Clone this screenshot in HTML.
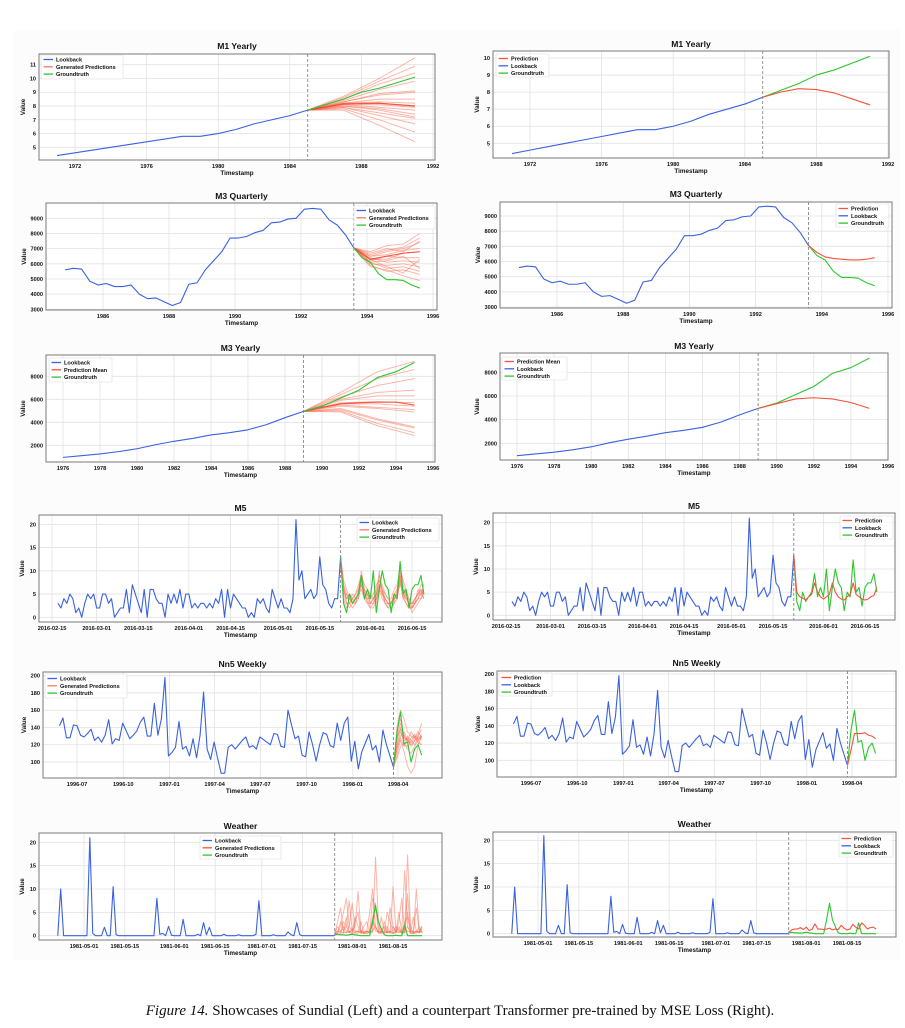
<!DOCTYPE html>
<html><head><meta charset="utf-8">
<style>
html,body{margin:0;padding:0;background:#fff;}
#wrap{position:relative;width:905px;height:1028px;overflow:hidden;}
#bg{position:absolute;left:14px;top:30px;width:886px;height:930px;background:#fcfcfc;}
svg{position:absolute;left:0;top:0;}
#caption{position:absolute;left:0;top:1003px;width:920px;text-align:center;font-family:"Liberation Serif",serif;font-size:15px;color:#111;}
</style></head>
<body>
<div id="wrap">
<div id="bg"></div>
<svg id="fig" width="905" height="1000" viewBox="0 0 905 1000"></svg>
<div id="caption"><i>Figure 14.</i> Showcases of Sundial (Left) and a counterpart Transformer pre-trained by MSE Loss (Right).</div>
</div>
<script>
// ---------- DATA ----------
const m1Years = [1971,1972,1973,1974,1975,1976,1977,1978,1979,1980,1981,1982,1983,1984,1985];
const m1Look = [4.4,4.6,4.8,5.0,5.2,5.4,5.6,5.8,5.8,6.0,6.3,6.7,7.0,7.3,7.7];
const m1FutYears = [1985,1986,1987,1988,1989,1990,1991];
const m1Truth = [7.7,8.1,8.5,9.0,9.3,9.7,10.1];
const m1Pred = [7.7,8.0,8.2,8.15,7.95,7.6,7.25];
const m1SampleYears = [1985,1987,1989,1991];
const m1Samples = [[7.7,8.7,10.0,11.5],[7.7,8.6,9.8,10.9],[7.7,8.5,9.6,10.4],[7.7,8.4,9.2,9.8],[7.7,8.3,8.9,9.1],[7.7,8.3,8.8,9.0],[7.7,8.2,8.5,8.5],[7.7,8.2,8.3,8.2],[7.7,8.2,8.2,8.0],[7.7,8.1,8.1,7.9],[7.7,8.1,7.9,7.7],[7.7,8.0,7.8,7.4],[7.7,8.0,7.7,7.2],[7.7,7.9,7.5,7.1],[7.7,7.9,7.3,6.7],[7.7,7.8,7.0,6.1],[7.7,7.7,6.6,5.4]];
const m1Mean = [7.7,8.15,8.2,8.0];

const m3qStart = 1984.85;
const m3qLook = [5600,5700,5650,4850,4600,4700,4500,4500,4600,4000,3700,3750,3500,3250,3450,4650,4750,5600,6200,6800,7700,7700,7800,8050,8200,8700,8750,8950,9000,9600,9650,9600,8900,8550,7900,7050];
const m3qTruth = [7050,6400,6100,5350,4950,4950,4900,4600,4400];
const m3qPred = [7050,6600,6300,6200,6150,6100,6100,6150,6250];
const m3qSampleX = [1993.6,1994.1,1994.6,1995.1,1995.6];
const m3qSamples = [[7050,6800,7200,7300,8000],[7050,6600,6900,7100,7700],[7050,6700,7000,6800,7500],[7050,6500,6600,6900,7000],[7050,6300,6300,6700,6800],[7050,6200,6500,6400,6400],[7050,6400,6100,6200,6100],[7050,6000,5900,6000,5800],[7050,6100,5700,5800,5500],[7050,5900,5500,5600,5300],[7050,5800,5600,5200,4900],[7050,6300,5800,5400,6300],[7050,6500,6800,7000,7400],[7050,6100,6200,6500,5700]];
const m3qMean = [7050,6300,6500,6700,6800];

const m3yYears = [1976,1977,1978,1979,1980,1981,1982,1983,1984,1985,1986,1987,1988,1989];
const m3yLook = [950,1100,1250,1450,1700,2050,2350,2600,2900,3100,3350,3800,4400,4950];
const m3yFutYears = [1989,1990,1991,1992,1993,1994,1995];
const m3yTruth = [4950,5400,6100,6800,7900,8400,9200];
const m3yPred = [4950,5350,5750,5850,5750,5450,4950];
const m3yMean = [4950,5300,5600,5700,5750,5750,5500];
const m3ySampleX = [1989,1991,1993,1995];
const m3ySamples = [[4950,6600,8400,9300],[4950,6400,7800,8600],[4950,6200,7200,7800],[4950,6000,6600,6800],[4950,5900,6300,6300],[4950,5700,5800,5700],[4950,5600,5600,5400],[4950,5500,5300,5100],[4950,5400,5200,4900],[4950,5200,4300,3600],[4950,5100,4200,3500],[4950,5000,3900,3100],[4950,4900,3700,2850]];

const m5Start = '2016-02-17';
const m5Look = [3,2,4,3,5,4,1,2,0,3,5,4,5,2,2,5,5,3,4,0,1,2,2,6,1,7,5,3,1,6,0,6,6,4,3,3,0,5,3,5,3,6,2,5,5,2,3,2,3,3,2,3,2,4,3,6,0,6,2,5,4,3,2,2,0,1,0,4,3,4,2,1,6,4,2,4,2,2,1,4,21,8,10,4,5,6,4,5,13,7,6,3,2,4,4,13];
const m5Truth = [13,3,1,5,3,4,5,9,4,6,4,10,1,6,10,7,6,1,5,4,12,5,6,2,6,7,7,9,5];
const m5Pred = [13,5,4,3.7,3.3,4,4.5,7,5,4,3.5,4,4.5,7,5,4,3.5,3.3,4,4.5,7,4.5,4,3.5,3.3,3.5,4,4.3,6];
const m5Samples = [
 [13,6,4,4,3,4,5,8,5,4,4,4,5,7,5,4,3,3,4,5,9,5,4,4,3,4,5,6,5],
 [12,5,3,3,4,5,6,10,6,5,3,4,6,9,6,4,3,3,5,6,11,7,5,3,3,4,5,7,7],
 [11,7,5,4,3,3,4,7,4,3,3,3,4,6,4,3,2,2,3,4,8,4,3,2,2,3,4,5,4],
 [13,4,2,3,4,5,7,9,5,5,4,5,7,8,6,5,4,4,6,7,11,8,6,4,2,3,6,5,7],
 [12,6,4,5,4,3,5,6,4,4,2,3,5,6,5,4,3,2,4,5,7,6,4,3,3,3,4,4,5],
 [13,8,6,4,5,4,4,9,7,6,5,4,5,8,7,5,4,3,4,5,10,6,5,3,2,4,5,5,6],
 [12,5,5,3,2,3,6,7,6,3,2,2,4,10,5,3,3,2,3,6,9,5,3,2,2,3,4,6,4],
 [13,7,3,2,3,4,5,8,4,5,3,4,3,7,6,3,2,3,5,4,8,4,5,3,1,2,3,4,6]];

const nn5Start = '1996-05-27';
const nn5Look = [142,151,128,128,143,142,131,129,133,138,125,129,123,131,149,121,127,125,145,136,127,131,136,146,152,130,130,168,131,150,198,107,111,117,147,115,118,107,127,105,131,181,115,103,123,104,87,87,117,120,115,120,125,129,117,119,115,129,126,123,120,133,132,118,117,160,143,127,130,108,106,135,120,101,120,134,132,119,117,145,125,145,152,101,124,92,112,122,132,114,119,100,137,120,107,94];
const nn5Truth = [94,135,158,121,123,100,115,120,108];
const nn5Pred = [94,112,131,131,131,132,129,128,125];
const nn5Samples = [[94,140,160,150,135,130,128,132,145],[94,130,145,128,125,120,125,130,138],[94,120,135,125,128,122,128,135,128],[94,115,128,118,130,125,120,128,125],[94,110,125,112,95,87,95,120,130],[94,125,140,120,118,125,130,122,120],[94,135,150,130,125,135,128,125,132],[94,105,118,122,115,110,118,125,120],[94,128,138,132,122,128,132,126,130],[94,118,130,135,126,118,124,130,127]];

const wStart = '1981-04-22';
const wLook = [0,10,0,0,0,0,0,0,0,0,0,21,0.5,0,0,0,1.8,0,0,10.5,0.2,0,0,0,0,0,0,0,0,0,0,0,0,0,8,0.3,0.5,0,2,0.1,0,0,0,3.5,0,0,0,0,0.3,0,2.8,0.2,1.8,0,0,0,0,0.3,0,0,0,0,0.2,0,0,0,0,0,0.3,7.5,0,0,0,0,0.2,0,0,0,0,0.8,0.2,0,2.8,0.2,0,0,0,0,0,0,0,0,0,0,0,0];
const wTruth = [0.2,0.3,0.2,0.2,0.1,0.2,0.3,0.2,0.1,0,0,0,0,3,6.5,3,1.5,0.2,0,0,0,0.1,0,0,2.3,0,0,0,0,0,0];
const wPred = [0.3,0.8,1,1,1.3,0.9,1.4,0.7,0.9,2.1,1,1,0.9,1,1.2,0.8,1,0.9,1.8,1.2,0.8,1,2,1.4,1,2.3,1.8,1,1.3,1.4,1];
const wSamples = [
 [0.3,1,2,5,8,2,1,0.6,1,0.5,0.6,1,0.5,0.7,16.8,3,1,0.5,1,0.6,0.5,1,2,0.5,0.8,17.3,2,0.6,1,0.7,1],
 [0.3,0.5,3,1,2,7.5,1,2,9.5,1,0.5,0.6,1,3,2,0.5,1,0.6,2,0.5,10.5,1,0.6,1,14,2,0.5,0.6,10,1,2],
 [0.5,2,1,0.5,4,0.6,0.5,3,5,0.6,0.5,1,0.6,8,6,1,0.5,3,0.6,0.7,2,0.6,5,0.8,0.6,9,1,0.5,0.6,2,0.6],
 [0.3,0.6,0.5,0.7,0.6,1,0.5,0.6,0.5,1.2,0.6,0.5,0.7,1,2,0.6,0.5,0.7,0.6,1,0.5,0.6,1,0.5,0.7,1,0.6,0.5,0.8,0.6,1],
 [0.4,1,0.8,2,1,0.7,1.5,0.8,1,0.6,1,0.8,1,4,1,0.8,1,2,0.8,1,0.6,0.9,1.5,0.7,1,5,1,0.8,1,0.7,2],
 [0.4,3,6,1,0.6,2,7,1,0.8,3,0.6,1,5,10,2,0.7,4,1,0.6,6,2,0.8,3,8,1,2,0.6,4,1,0.8,1.5],
 [0.5,1,0.7,3,2,0.8,1,4,2,0.6,2,3,0.8,1,7,2,0.6,1,5,3,0.8,2,1,0.6,3,4,1,0.7,6,1,0.8]];

const yearTicksM1 = [1972,1976,1980,1984,1988,1992];
const yearTicksM3Q = [1986,1988,1990,1992,1994,1996];
const yearTicksM3Y = [1976,1978,1980,1982,1984,1986,1988,1990,1992,1994,1996];
const m5TickLabels = ['2016-02-15','2016-03-01','2016-03-15','2016-04-01','2016-04-15','2016-05-01','2016-05-15','2016-06-01','2016-06-15'];
const nn5TickLabels = ['1996-07','1996-10','1997-01','1997-04','1997-07','1997-10','1998-01','1998-04'];
const wTickLabels = ['1981-05-01','1981-05-15','1981-06-01','1981-06-15','1981-07-01','1981-07-15','1981-08-01','1981-08-15'];

// ---------- RENDER ----------
const NS='http://www.w3.org/2000/svg';
const svg=document.getElementById('fig');
const BLUE='#3a62e0', RED='#f5533a', GREEN='#2fc52f', SAMP='rgba(248,105,80,0.5)';
function el(tag,attrs,parent){const e=document.createElementNS(NS,tag);for(const k in attrs)e.setAttribute(k,attrs[k]);(parent||svg).appendChild(e);return e;}
function dayNum(s){const p=s.split('-').map(Number);return Date.UTC(p[0],p[1]-1,p[2]||1)/864e5;}
function seq(start,step,n){const a=[];for(let i=0;i<n;i++)a.push(start+i*step);return a;}

function panel(c){
  const g=el('g',{});
  
  
  const sx=v=>c.px0+(v-c.xv0)*(c.px1-c.px0)/(c.xv1-c.xv0);
  const sy=v=>c.py0+(v-c.yv0)*(c.py1-c.py0)/(c.yv1-c.yv0);
  el('rect',{x:c.L,y:c.T,width:c.R-c.L,height:c.B-c.T,fill:'#fff'},g);
  const grid=el('g',{},g);
  
  
  c.xt.forEach(t=>{const x=sx(t.v);if(x>=c.L-1&&x<=c.R+1)el('line',{x1:x,x2:x,y1:c.T,y2:c.B,stroke:'#e2e2e2','stroke-width':0.8},grid);});
  c.yt.forEach(v=>{const y=sy(v);el('line',{x1:c.L,x2:c.R,y1:y,y2:y,stroke:'#e2e2e2','stroke-width':0.8},grid);});
  function line(xs,ys,col,w,name){
    const d=xs.map((x,i)=>(i?'L':'M')+sx(x).toFixed(2)+' '+sy(ys[i]).toFixed(2)).join(' ');
    const p=el('path',{d:d,fill:'none',stroke:col,'stroke-width':w,'stroke-linejoin':'round'},g);
    
    
  }
  (c.samples||[]).forEach((s,i)=>line(c.sampleX,s,SAMP,0.95,'prediction-sample-'+(i+1)));
  if(c.mean)line(c.meanX,c.mean,'rgba(235,70,45,0.85)',1.2,'prediction-mean');
  line(c.lookX,c.look,BLUE,1.1,'lookback-line');
  if(c.truth)line(c.futX,c.truth,GREEN,1.1,'groundtruth-line');
  if(c.pred)line(c.futX,c.pred,RED,1.1,'prediction-line');
  const vx=sx(c.lookX[c.lookX.length-1]);
  const vl=el('line',{x1:vx,x2:vx,y1:c.T,y2:c.B,stroke:'#888','stroke-width':0.9,'stroke-dasharray':'3,2'},g);
  
  
  el('rect',{x:c.L,y:c.T,width:c.R-c.L,height:c.B-c.T,fill:'none',stroke:'#7a7a7a','stroke-width':1},g);
  const fs='font-family:"Liberation Sans",sans-serif;font-weight:bold;';
  c.xt.forEach(t=>{const x=sx(t.v);const tx=el('text',{x:x,y:c.B+8,'text-anchor':'middle',style:fs+'font-size:5.6px',fill:'#111'},g);tx.textContent=t.l;
    });
  c.yt.forEach(v=>{const y=sy(v);const tx=el('text',{x:c.L-3,y:y+2,'text-anchor':'end',style:fs+'font-size:5.6px',fill:'#111'},g);tx.textContent=String(v);
    });
  const xl=el('text',{x:(c.L+c.R)/2,y:c.B+15,'text-anchor':'middle',style:fs+'font-size:6.3px',fill:'#111'},g);xl.textContent='Timestamp';
  
  const yx=c.L-c.ylOff, ym=(c.T+c.B)/2;
  const yl=el('text',{x:yx,y:ym,'text-anchor':'middle',transform:`rotate(-90 ${yx} ${ym})`,style:fs+'font-size:6.3px',fill:'#111'},g);yl.textContent='Value';
  
  const tt=el('text',{x:(c.L+c.R)/2,y:c.titleY+3,'text-anchor':'middle',style:fs+'font-size:8.6px',fill:'#111'},g);tt.textContent=c.title;
  
  const lg=el('g',{},g);
  
  
  const [lx,ly,lw,lh]=c.leg;
  el('rect',{x:lx,y:ly,width:lw,height:lh,fill:'rgba(255,255,255,0.85)',stroke:'#ddd','stroke-width':0.6,rx:1},lg);
  c.legItems.forEach((it,i)=>{const yy=ly+4.5+i*7.3;
    el('line',{x1:lx+2.5,x2:lx+12,y1:yy,y2:yy,stroke:it[1],'stroke-width':1.3},lg);
    const t=el('text',{x:lx+15,y:yy+2,style:fs+'font-size:5.6px',fill:'#111'},lg);t.textContent=it[0];
    });
}
const LB=['Lookback',BLUE],GP=['Generated Predictions','rgba(248,105,80,0.9)'],GT=['Groundtruth',GREEN],PR=['Prediction',RED],PM=['Prediction Mean',RED];
const yrT=a=>a.map(v=>({v:v,l:String(v)}));
const dT=a=>a.map(s=>({v:dayNum(s),l:s}));
const range=(a,b,s)=>{const r=[];for(let v=a;v<=b;v+=s)r.push(v);return r;};

// M1
const m1Base={title:'M1 Yearly',lookX:m1Years,look:m1Look,futX:m1FutYears,truth:m1Truth,xt:yrT(yearTicksM1)};
panel(Object.assign({},m1Base,{name:'m1-yearly-sundial',L:39,R:435,T:54,B:160,px0:75,px1:433,xv0:1972,xv1:1992,py0:64.7,py1:147.3,yv0:11,yv1:5,yt:range(5,11,1),ylOff:14,titleY:46,
 samples:m1Samples,sampleX:m1SampleYears,mean:m1Mean,meanX:m1SampleYears,leg:[41,55,82,24],legItems:[LB,GP,GT]}));
panel(Object.assign({},m1Base,{name:'m1-yearly-mse',L:493,R:889,T:51,B:158,px0:530,px1:888,xv0:1972,xv1:1992,py0:58,py1:143.3,yv0:10,yv1:5,yt:range(5,10,1),ylOff:14,titleY:44,
 pred:m1Pred,leg:[496,54,53,23],legItems:[PR,LB,GT]}));
// M3 Q
const m3qX=seq(m3qStart,0.25,m3qLook.length), m3qF=seq(m3qX[m3qX.length-1],0.25,m3qTruth.length);
const m3qBase={title:'M3 Quarterly',lookX:m3qX,look:m3qLook,futX:m3qF,truth:m3qTruth,xt:yrT(yearTicksM3Q),yt:range(3000,9000,1000)};
panel(Object.assign({},m3qBase,{name:'m3-quarterly-sundial',L:46,R:437,T:203,B:310,px0:103,px1:433,xv0:1986,xv1:1996,py0:218.3,py1:309.3,yv0:9000,yv1:3000,ylOff:20,titleY:196,
 samples:m3qSamples,sampleX:m3qSampleX,mean:m3qMean,meanX:m3qSampleX,leg:[354,206,81,23],legItems:[LB,GP,GT]}));
panel(Object.assign({},m3qBase,{name:'m3-quarterly-mse',L:500,R:892,T:202,B:308,px0:557,px1:888,xv0:1986,xv1:1996,py0:216,py1:307,yv0:9000,yv1:3000,ylOff:20,titleY:194,
 pred:m3qPred,leg:[836,204,53,23],legItems:[PR,LB,GT]}));
// M3 Y
const m3yBase={title:'M3 Yearly',lookX:m3yYears,look:m3yLook,futX:m3yFutYears,truth:m3yTruth,xt:yrT(yearTicksM3Y),yt:range(2000,8000,2000)};
panel(Object.assign({},m3yBase,{name:'m3-yearly-sundial',L:46,R:435,T:355,B:462,px0:63,px1:433,xv0:1976,xv1:1996,py0:376.3,py1:445.3,yv0:8000,yv1:2000,ylOff:21,titleY:348,
 samples:m3ySamples,sampleX:m3ySampleX,mean:m3yMean,meanX:m3yFutYears,leg:[49,358,63,24],legItems:[LB,PM,GT]}));
panel(Object.assign({},m3yBase,{name:'m3-yearly-mse',L:500,R:888,T:353,B:460,px0:517,px1:888,xv0:1976,xv1:1996,py0:372.3,py1:443.3,yv0:8000,yv1:2000,ylOff:21,titleY:346,
 pred:m3yPred,leg:[502,357,65,23],legItems:[PM,LB,GT]}));
// M5
const m5X=seq(dayNum(m5Start),1,m5Look.length), m5F=seq(m5X[m5X.length-1],1,m5Truth.length);
const m5Base={title:'M5',lookX:m5X,look:m5Look,futX:m5F,truth:m5Truth,xt:dT(m5TickLabels),yt:[0,5,10,15,20],xv0:dayNum('2016-02-15'),xv1:dayNum('2016-06-15'),yv0:20,yv1:0};
panel(Object.assign({},m5Base,{name:'m5-sundial',L:39,R:442,T:515,B:622,px0:52,px1:412,py0:524.3,py1:617.3,ylOff:15,titleY:508,
 samples:m5Samples,sampleX:m5F,leg:[357,518,82,23],legItems:[LB,GP,GT]}));
panel(Object.assign({},m5Base,{name:'m5-mse',L:493,R:895,T:513,B:620,px0:506,px1:865,py0:522.7,py1:615.3,ylOff:15,titleY:506,
 pred:m5Pred,leg:[840,516,53,23],legItems:[PR,LB,GT]}));
// NN5
const nnX=seq(dayNum(nn5Start),7,nn5Look.length), nnF=seq(nnX[nnX.length-1],7,nn5Truth.length);
const nnBase={title:'Nn5 Weekly',lookX:nnX,look:nn5Look,futX:nnF,truth:nn5Truth,xt:dT(nn5TickLabels),yt:range(100,200,20),xv0:dayNum('1996-07'),xv1:dayNum('1998-04'),yv0:200,yv1:100};
panel(Object.assign({},nnBase,{name:'nn5-weekly-sundial',L:43,R:442,T:672,B:778,px0:77,px1:398,py0:675.7,py1:762,ylOff:17,titleY:664,
 samples:nn5Samples,sampleX:nnF,leg:[45,674,82,24],legItems:[LB,GP,GT]}));
panel(Object.assign({},nnBase,{name:'nn5-weekly-mse',L:497,R:896,T:671,B:777,px0:531,px1:852,py0:674,py1:760.3,ylOff:17,titleY:663,
 pred:nn5Pred,leg:[499,673,53,23],legItems:[PR,LB,GT]}));
// Weather
const wX=seq(dayNum(wStart),1,wLook.length), wF=seq(wX[wX.length-1],1,wTruth.length);
const wBase={title:'Weather',lookX:wX,look:wLook,futX:wF,truth:wTruth,xt:dT(wTickLabels),yt:[0,5,10,15,20],xv0:dayNum('1981-05-01'),xv1:dayNum('1981-08-15'),yv0:20,yv1:0};
panel(Object.assign({},wBase,{name:'weather-sundial',L:39,R:442,T:833,B:940,px0:84,px1:393,py0:842.3,py1:935.7,ylOff:15,titleY:826,
 samples:wSamples,sampleX:wF,leg:[200,836,81,23],legItems:[LB,['Generated Predictions',RED],GT]}));
panel(Object.assign({},wBase,{name:'weather-mse',L:493,R:896,T:832,B:937,px0:538,px1:847,py0:840.3,py1:933.7,ylOff:15,titleY:824,
 pred:wPred,leg:[839,834,54,23],legItems:[PR,LB,GT]}));
</script>
</body></html>
